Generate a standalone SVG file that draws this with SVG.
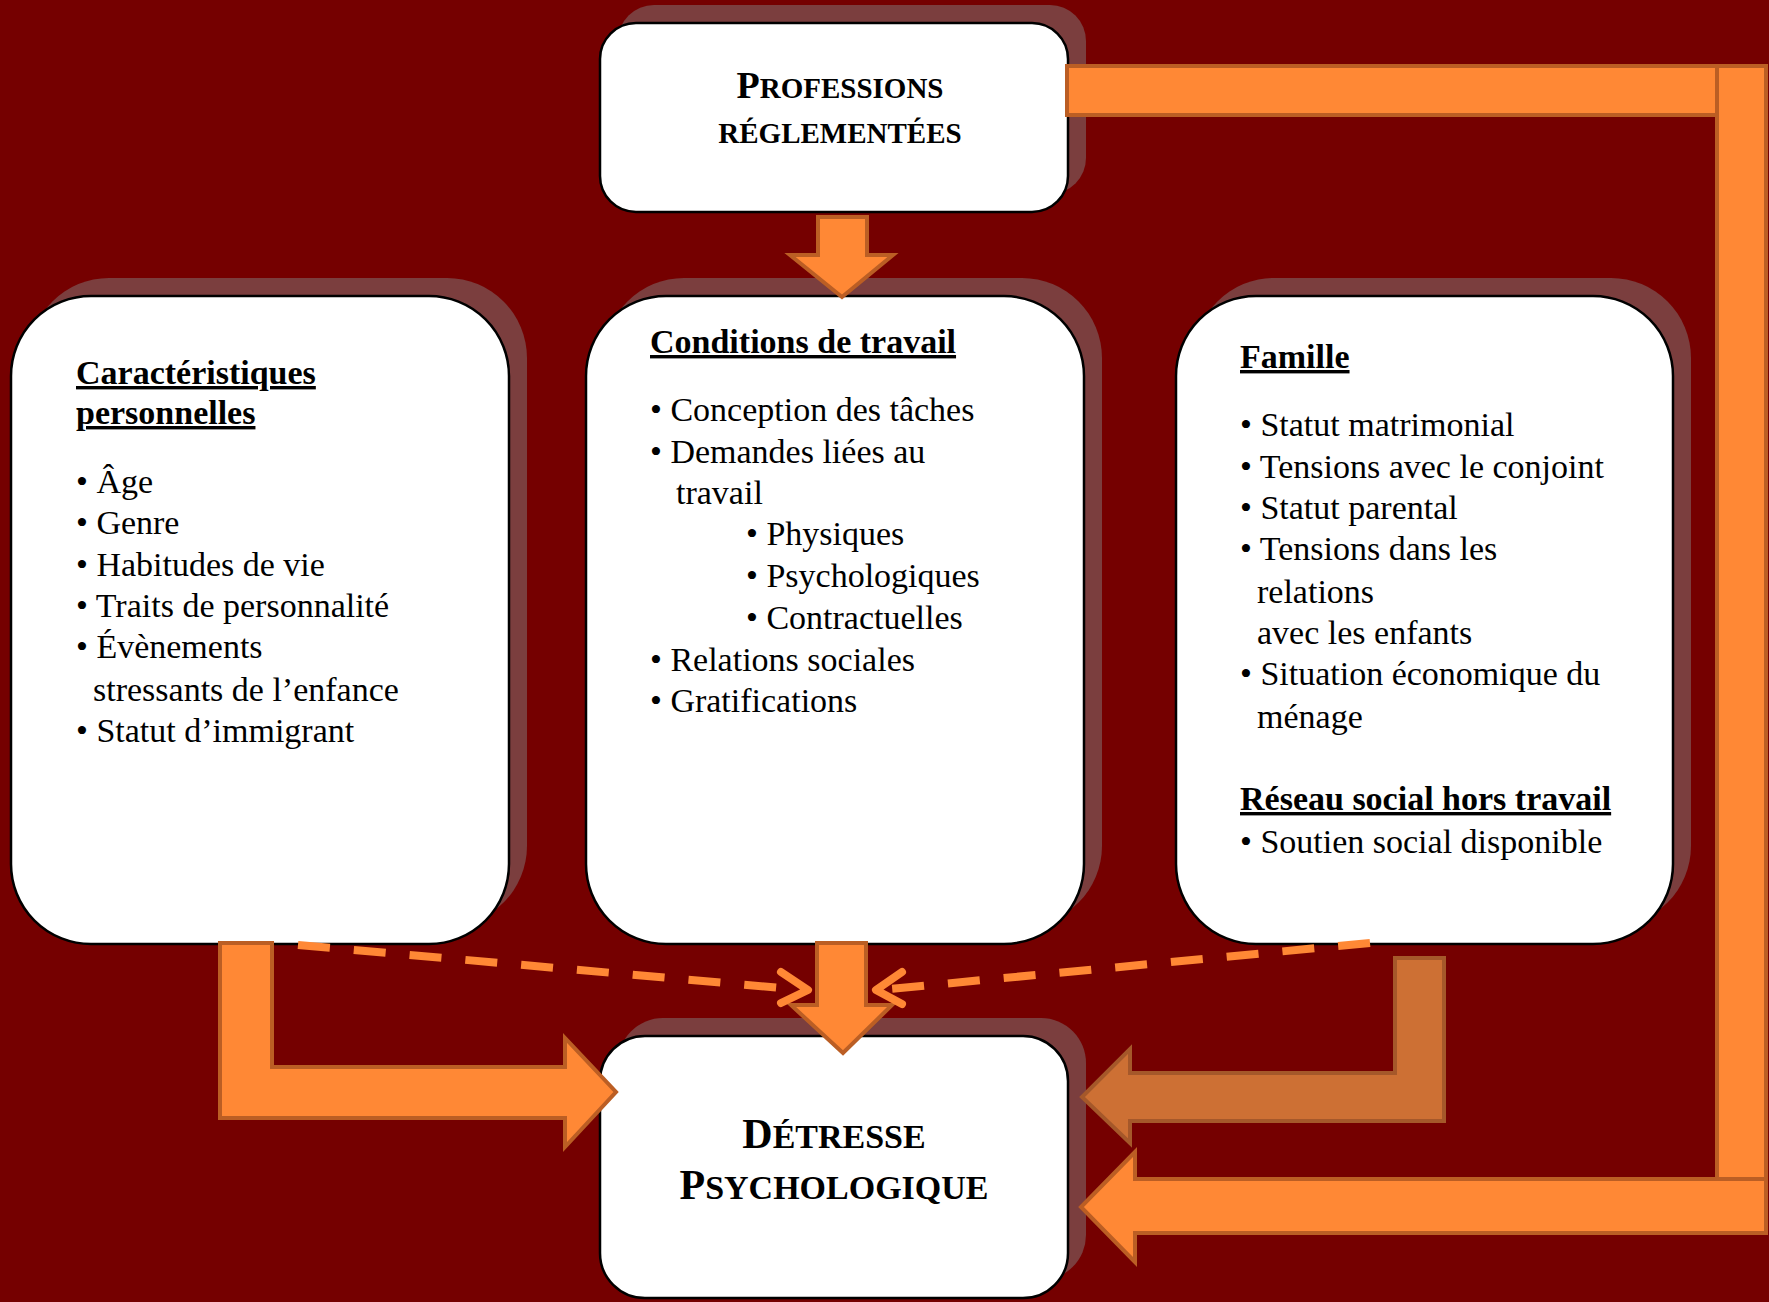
<svg xmlns="http://www.w3.org/2000/svg" width="1769" height="1302" viewBox="0 0 1769 1302">
<defs>
<style>
.shadow{fill:#7b3e3e}
.box{fill:#ffffff;stroke:#000000;stroke-width:2.5}
.t{font-family:"Liberation Serif","Times New Roman",serif;font-size:34px;fill:#000000}
.h{font-family:"Liberation Serif","Times New Roman",serif;font-size:34px;font-weight:bold;fill:#000000;text-decoration:underline}
.sc{font-family:"Liberation Serif","Times New Roman",serif;font-weight:bold;fill:#000000}
.arr{fill:#ff8835;stroke:#bb5e24;stroke-width:4;stroke-linejoin:miter}
.arr2{fill:#cd7034;stroke:#a5582a;stroke-width:4;stroke-linejoin:miter}
.dash{fill:none;stroke:#ff8835;stroke-width:8;stroke-dasharray:32 24}
.chev{fill:none;stroke:#ff8835;stroke-width:8;stroke-linecap:round;stroke-linejoin:round}
</style>
</defs>
<rect x="0" y="0" width="1769" height="1302" fill="#750000"/>

<g id="node-professions">
<rect class="shadow" x="618" y="5" width="468" height="189" rx="36"/>
<rect class="box" x="600" y="23" width="468" height="189" rx="36"/>
<text class="sc" x="840" y="98" text-anchor="middle"><tspan font-size="38">P</tspan><tspan font-size="29">ROFESSIONS</tspan></text>
<text class="sc" x="840" y="143" text-anchor="middle" font-size="29">RÉGLEMENTÉES</text>
</g>

<g id="node-caracteristiques">
<rect class="shadow" x="29" y="278" width="498" height="648" rx="80"/>
<rect class="box" x="11" y="296" width="498" height="648" rx="80"/>
<text class="h" x="76" y="384">Caractéristiques</text>
<text class="h" x="76" y="424">personnelles</text>
<text class="t" x="76" y="493">• Âge</text>
<text class="t" x="76" y="534">• Genre</text>
<text class="t" x="76" y="576">• Habitudes de vie</text>
<text class="t" x="76" y="617">• Traits de personnalité</text>
<text class="t" x="76" y="658">• Évènements</text>
<text class="t" x="93" y="701">stressants de l’enfance</text>
<text class="t" x="76" y="742">• Statut d’immigrant</text>
</g>

<g id="node-conditions">
<rect class="shadow" x="604" y="278" width="498" height="648" rx="80"/>
<rect class="box" x="586" y="296" width="498" height="648" rx="80"/>
<text class="h" x="650" y="353">Conditions de travail</text>
<text class="t" x="650" y="421">• Conception des tâches</text>
<text class="t" x="650" y="463">• Demandes liées au</text>
<text class="t" x="676" y="504">travail</text>
<text class="t" x="746" y="545">• Physiques</text>
<text class="t" x="746" y="587">• Psychologiques</text>
<text class="t" x="746" y="629">• Contractuelles</text>
<text class="t" x="650" y="671">• Relations sociales</text>
<text class="t" x="650" y="712">• Gratifications</text>
</g>

<g id="node-famille">
<rect class="shadow" x="1194" y="278" width="497" height="648" rx="80"/>
<rect class="box" x="1176" y="296" width="497" height="648" rx="80"/>
<text class="h" x="1240" y="368">Famille</text>
<text class="t" x="1240" y="436">• Statut matrimonial</text>
<text class="t" x="1240" y="478">• Tensions avec le conjoint</text>
<text class="t" x="1240" y="519">• Statut parental</text>
<text class="t" x="1240" y="560">• Tensions dans les</text>
<text class="t" x="1257" y="603">relations</text>
<text class="t" x="1257" y="644">avec les enfants</text>
<text class="t" x="1240" y="685">• Situation économique du</text>
<text class="t" x="1257" y="728">ménage</text>
<text class="h" x="1240" y="810">Réseau social hors travail</text>
<text class="t" x="1240" y="853">• Soutien social disponible</text>
</g>

<g id="node-detresse">
<rect class="shadow" x="618" y="1018" width="468" height="262" rx="45"/>
<rect class="box" x="600" y="1036" width="468" height="262" rx="45"/>
<text class="sc" x="834" y="1148" text-anchor="middle"><tspan font-size="42">D</tspan><tspan font-size="34">ÉTRESSE</tspan></text>
<text class="sc" x="834" y="1199" text-anchor="middle"><tspan font-size="42">P</tspan><tspan font-size="34">SYCHOLOGIQUE</tspan></text>
</g>

<g id="connectors">
<polygon class="arr" points="818,217 867,217 867,255 893,255 842,297 790,255 818,255"/>
<polygon class="arr" points="817,943 866,943 866,1005 892,1005 843,1053 791,1005 817,1005"/>
<polygon class="arr" points="220,943 272,943 272,1067 565,1067 565,1038 616,1092 565,1147 565,1118 220,1118"/>
<polygon class="arr2" points="1395,958 1444,958 1444,1073 1444,1121 1130,1121 1130,1143 1082,1097 1130,1049 1130,1073 1395,1073"/>
<rect class="arr" x="1067" y="66" width="699" height="49"/>
<rect class="arr" x="1717" y="66" width="49" height="1167"/>
<polygon class="arr" points="1766,1179 1766,1233 1135,1233 1135,1262 1081,1207 1135,1152 1135,1179"/>
<path class="dash" d="M298,945 L804,990"/>
<path class="chev" d="M781,972 L808,990 L781,1003"/>
<path class="dash" d="M1370,943 L879,990"/>
<path class="chev" d="M902,972 L876,990 L902,1004"/>
</g>
</svg>
